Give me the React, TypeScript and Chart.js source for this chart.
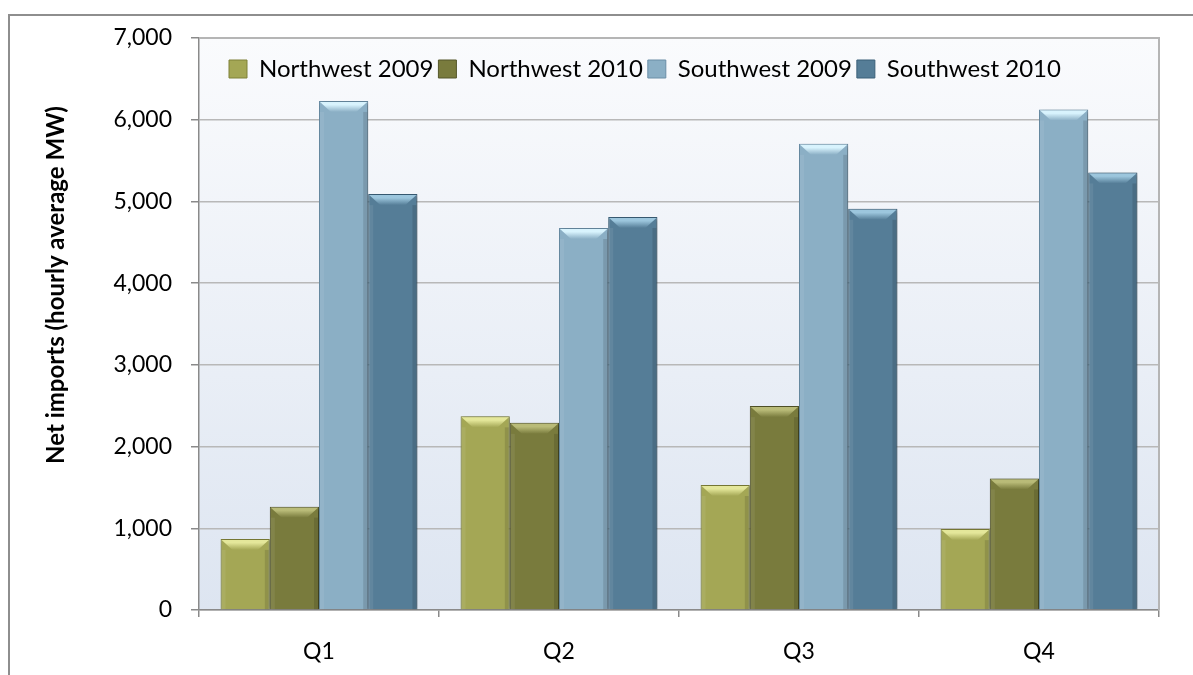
import React, { useEffect, useRef } from 'react';
import { Chart, registerables } from 'chart.js';

Chart.register(...registerables);

const CATEGORIES = ['Q1', 'Q2', 'Q3', 'Q4'];
const SERIES_LABELS = ['Northwest 2009', 'Northwest 2010', 'Southwest 2009', 'Southwest 2010'];
const NORTHWEST_2009 = [870, 2370, 1530, 990];
const NORTHWEST_2010 = [1265, 2290, 2495, 1610];
const SOUTHWEST_2009 = [6230, 4675, 5705, 6125];
const SOUTHWEST_2010 = [5090, 4810, 4910, 5355];
const Y_MIN = 0;
const Y_MAX = 7000;
const Y_STEP = 1000;
const Y_TITLE = 'Net imports (hourly average MW)';

const FILLS = ['#a4a755', '#797b3d', '#8bafc5', '#557d97'];
const EDGES = ['#7f8138', '#55572a', '#6a8ea6', '#3b6079'];
const HIGHLIGHTS = ['#e4e79a', '#b9bb78', '#d8f3fd', '#9cc6dd'];

const FONT = 'Lato';

const plotBackground = {
  id: 'plotBackground',
  beforeDraw(chart: any) {
    const { ctx, chartArea: a } = chart;
    const g = ctx.createLinearGradient(0, a.top, 0, a.bottom);
    g.addColorStop(0, '#fafbfd');
    g.addColorStop(1, '#dde5f1');
    ctx.save();
    ctx.fillStyle = g;
    ctx.fillRect(a.left, a.top, a.right - a.left, a.bottom - a.top);
    ctx.restore();
  },
};

const frameAndShadow = {
  id: 'frameAndShadow',
  beforeDatasetsDraw(chart: any) {
    const { ctx, chartArea: a } = chart;
    ctx.save();
    ctx.strokeStyle = '#b5b5b5';
    ctx.lineWidth = 2;
    ctx.beginPath();
    ctx.moveTo(a.left, a.top);
    ctx.lineTo(a.right, a.top);
    ctx.lineTo(a.right, a.bottom);
    ctx.stroke();
    ctx.restore();
    ctx.save();
    ctx.shadowColor = 'rgba(0,0,0,0.35)';
    ctx.shadowBlur = 4;
    ctx.shadowOffsetX = 1.5;
    ctx.shadowOffsetY = 1;
  },
  afterDatasetsDraw(chart: any) {
    const ctx = chart.ctx;
    ctx.restore();
    chart.data.datasets.forEach((_ds: any, i: number) => {
      const meta = chart.getDatasetMeta(i);
      meta.data.forEach((bar: any) => {
        const { x, y, base, width } = bar.getProps(['x', 'y', 'base', 'width'], true);
        const l = x - width / 2 + 1;
        const r = x + width / 2 - 1;
        const b = Math.min(11, (base - y) / 2);
        ctx.save();
        const g = ctx.createLinearGradient(0, y, 0, y + b);
        g.addColorStop(0, HIGHLIGHTS[i]);
        g.addColorStop(0.35, HIGHLIGHTS[i]);
        g.addColorStop(1, FILLS[i]);
        ctx.fillStyle = g;
        ctx.beginPath();
        ctx.moveTo(l, y + 1);
        ctx.lineTo(r, y + 1);
        ctx.lineTo(r - b, y + b);
        ctx.lineTo(l + b, y + b);
        ctx.closePath();
        ctx.fill();
        ctx.fillStyle = 'rgba(0,0,0,0.12)';
        ctx.fillRect(r - 4, y + b, 4, base - y - b);
        ctx.fillStyle = 'rgba(255,255,255,0.07)';
        ctx.fillRect(l, y + b, 4, base - y - b);
        ctx.restore();
      });
    });
  },
};

const yTitlePlugin = {
  id: 'yTitlePlugin',
  afterDraw(chart: any) {
    const ctx = chart.ctx;
    ctx.save();
    ctx.translate(56, 285);
    ctx.rotate(-Math.PI / 2);
    ctx.font = `bold 24px ${FONT}`;
    ctx.fillStyle = '#000';
    ctx.textAlign = 'center';
    ctx.textBaseline = 'middle';
    ctx.fillText(Y_TITLE, 0, 0);
    ctx.restore();
  },
};

const legendMover = {
  id: 'legendMover',
  afterLayout(chart: any) {
    const lg = chart.legend;
    if (!lg) return;
    const top = 52;
    const h = 40;
    lg.top = top;
    lg.bottom = top + h;
    lg.height = h;
    lg.left = 224;
    lg.right = 1159;
    lg.width = lg.right - lg.left;
  },
};

export default function App() {
  const ref = useRef<HTMLCanvasElement | null>(null);

  useEffect(() => {
    if (!ref.current) return;
    const series = [NORTHWEST_2009, NORTHWEST_2010, SOUTHWEST_2009, SOUTHWEST_2010];
    const chart = new Chart(ref.current, {
      type: 'bar',
      data: {
        labels: CATEGORIES,
        datasets: series.map((values, i) => ({
          label: SERIES_LABELS[i],
          data: values,
          backgroundColor: FILLS[i],
          borderColor: EDGES[i],
          borderWidth: 1,
          categoryPercentage: 0.82,
          barPercentage: 1,
        })),
      },
      options: {
        responsive: false,
        animation: false,
        layout: { padding: { top: 37, right: 34, bottom: 0, left: 0 } },
        font: { family: FONT },
        plugins: {
          legend: {
            position: 'top',
            align: 'start',
            maxHeight: 1,
            labels: {
              boxWidth: 18,
              boxHeight: 18,
              padding: 5,
              color: '#000',
              font: { size: 24, family: FONT },
            },
          },
          tooltip: { enabled: false },
        },
        scales: {
          x: {
            grid: {
              offset: true,
              drawOnChartArea: false,
              drawTicks: true,
              tickLength: 7,
              tickColor: '#8a8a8a',
              lineWidth: 1.5,
            },
            border: { color: '#8a8a8a', width: 1.5 },
            ticks: { padding: 21, color: '#000', font: { size: 23, family: FONT } },
            afterFit: (s: any) => {
              s.height = 65;
            },
          },
          y: {
            min: Y_MIN,
            max: Y_MAX,
            ticks: {
              stepSize: Y_STEP,
              padding: 19,
              color: '#000',
              font: { size: 23, family: FONT },
              callback: (v: any) => Number(v).toLocaleString('en-US'),
            },
            grid: {
              color: '#b8b8b8',
              lineWidth: 1.5,
              tickLength: 8,
              tickColor: '#8a8a8a',
              drawTicks: true,
            },
            border: { color: '#8a8a8a', width: 1.5 },
            afterFit: (s: any) => {
              s.width = 199;
            },
          },
        },
      } as any,
      plugins: [plotBackground, frameAndShadow, yTitlePlugin, legendMover],
    });
    return () => chart.destroy();
  }, []);

  return (
    <div
      style={{
        position: 'fixed',
        left: 0,
        top: 0,
        width: 1193,
        height: 675,
        overflow: 'hidden',
        background: '#fff',
      }}
    >
      <div
        style={{
          position: 'absolute',
          left: 8,
          top: 14,
          width: 1400,
          height: 900,
          borderTop: '2px solid #8e8e8e',
          borderLeft: '2px solid #8e8e8e',
        }}
      />
      <canvas
        ref={ref}
        width={1193}
        height={675}
        style={{ position: 'absolute', left: 0, top: 0, width: 1193, height: 675 }}
      />
    </div>
  );
}
